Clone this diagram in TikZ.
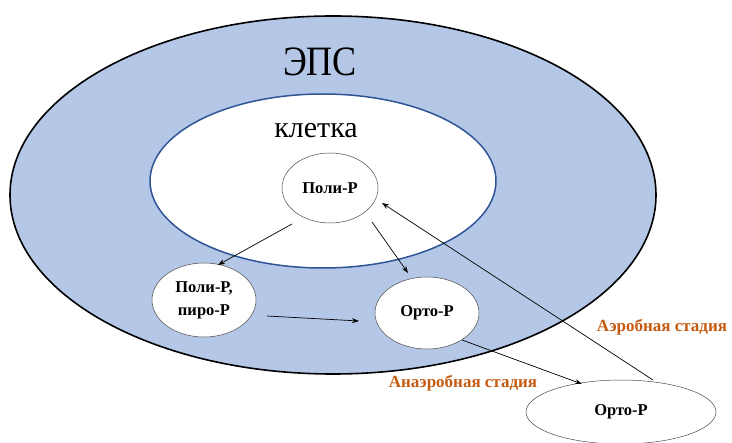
\documentclass[tikz,border=0pt]{standalone}
\usepackage{fontspec}
\setmainfont{Liberation Serif}
\definecolor{epsblue}{HTML}{B4C7E7}
\definecolor{cellblue}{HTML}{2F5597}
\definecolor{stageorange}{HTML}{C55A11}
\tikzset{
  pnode/.style={draw=black!70, line width=0.5pt, fill=white, ellipse, inner sep=0pt, font=\fontsize{16.5}{18}\selectfont\bfseries, align=center},
  flow/.style={-{Stealth[length=7pt,width=5pt]}, line width=0.7pt},
  stagelabel/.style={text=stageorange, font=\fontsize{17}{19}\selectfont\bfseries}
}
\usetikzlibrary{shapes.geometric,arrows.meta}
\begin{document}
\begin{tikzpicture}[x=1pt,y=-1pt]
\useasboundingbox (0,0) rectangle (732,443);
\fill[white] (0,0) rectangle (732,443);
% ЭПС
\node[draw=black, line width=1.6pt, fill=epsblue, ellipse, minimum width=646pt, minimum height=358pt, inner sep=0pt] (eps) at (333,195) {};
\node[font=\fontsize{38}{40}\selectfont, yscale=1.1, xscale=0.95] (epslabel) at (320,62) {ЭПС};
% клетка
\node[draw=cellblue, line width=1.5pt, fill=white, ellipse, minimum width=346pt, minimum height=174pt, inner sep=0pt] (cell) at (323,181) {};
\node[font=\fontsize{30}{32}\selectfont] (celllabel) at (316,131) {клетка};
% nodes
\node[pnode, minimum width=96pt, minimum height=70pt] (poly) at (330,188) {Поли-Р};
\node[pnode, minimum width=104pt, minimum height=74pt] (polypyro) at (204,300) {Поли-Р,\\[5pt]пиро-Р};
\node[pnode, minimum width=104pt, minimum height=72pt] (orto) at (427,313) {Орто-Р};
\node[pnode, minimum width=190pt, minimum height=64pt] (ortoout) at (621,412) {Орто-Р};
% arrows
\coordinate (a1s) at (292,224); \coordinate (a1e) at (218,265);
\coordinate (a2s) at (372,222); \coordinate (a2e) at (408,273);
\coordinate (a3s) at (267,316); \coordinate (a3e) at (359,321);
\coordinate (a4s) at (462,340); \coordinate (a4e) at (582,384);
\coordinate (a5s) at (653,380); \coordinate (a5e) at (382,203);
\draw[flow] (a1s) -- (a1e);
\draw[flow] (a2s) -- (a2e);
\draw[flow] (a3s) -- (a3e);
\draw[flow] (a4s) -- (a4e);
\draw[flow] (a5s) -- (a5e);
% stage labels
\node[stagelabel] (aer) at (662,327) {Аэробная стадия};
\node[stagelabel] (anaer) at (463,383) {Анаэробная стадия};
\end{tikzpicture}
\end{document}
